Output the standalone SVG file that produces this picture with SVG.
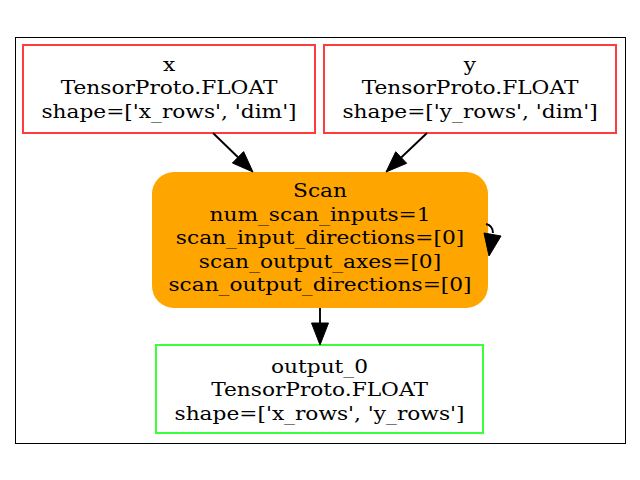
<svg xmlns="http://www.w3.org/2000/svg" width="640" height="480" viewBox="0 0 640 480">
<style>
.t{font-family:"DejaVu Serif",serif;font-size:18.4px;fill:#000;text-anchor:middle}
.in{fill:#fff;stroke:#ff3b3b;stroke-width:2}
.out{fill:#fff;stroke:#3bff3b;stroke-width:2}
.e{stroke:#000;stroke-width:1.9;fill:none}
.h{fill:#000;stroke:#000;stroke-width:1}
</style>
<rect x="0" y="0" width="640" height="480" fill="#fff"/>
<rect x="15.5" y="37.5" width="610" height="406" fill="#fff" stroke="#000" stroke-width="1"/>
<g id="node_x">
<rect class="in" x="23" y="45" width="292" height="88"/>
<text class="t" transform="translate(169,71) scale(1.18,1)">x</text>
<text class="t" transform="translate(169,94) scale(1.18,1)">TensorProto.FLOAT</text>
<text class="t" transform="translate(169,117.5) scale(1.18,1)">shape=['x_rows', 'dim']</text>
</g>
<g id="node_y">
<rect class="in" x="324" y="45" width="292" height="88"/>
<text class="t" transform="translate(470,71) scale(1.18,1)">y</text>
<text class="t" transform="translate(470,94) scale(1.18,1)">TensorProto.FLOAT</text>
<text class="t" transform="translate(470,117.5) scale(1.18,1)">shape=['y_rows', 'dim']</text>
</g>
<g id="node_scan">
<rect x="152" y="172" width="336" height="136" rx="22" ry="22" fill="#ffa500"/>
<text class="t" transform="translate(320,197) scale(1.18,1)">Scan</text>
<text class="t" transform="translate(320,220.5) scale(1.18,1)">num_scan_inputs=1</text>
<text class="t" transform="translate(320,244) scale(1.18,1)">scan_input_directions=[0]</text>
<text class="t" transform="translate(320,267.5) scale(1.18,1)">scan_output_axes=[0]</text>
<text class="t" transform="translate(320,291) scale(1.18,1)">scan_output_directions=[0]</text>
</g>
<g id="node_output_0">
<rect class="out" x="156" y="345" width="327" height="88"/>
<text class="t" transform="translate(319.5,373) scale(1.18,1)">output_0</text>
<text class="t" transform="translate(319.5,396) scale(1.18,1)">TensorProto.FLOAT</text>
<text class="t" transform="translate(319.5,419.5) scale(1.18,1)">shape=['x_rows', 'y_rows']</text>
</g>
<g id="connectors">
<path class="e" d="M213,133 L238,157.3"/>
<polygon class="h" points="232.4,163 243.6,151.6 253,172"/>
<path class="e" d="M427,133 L401.2,157.5"/>
<polygon class="h" points="406.7,163.3 395.7,151.7 386,172"/>
<path class="e" d="M320,308 L320,323"/>
<polygon class="h" points="311.5,323 328.5,323 320,345"/>
<path class="e" d="M486,224 C490,225 493,228 493,233"/>
<polygon class="h" points="484,233 501,236 489,256"/>
</g>
</svg>
